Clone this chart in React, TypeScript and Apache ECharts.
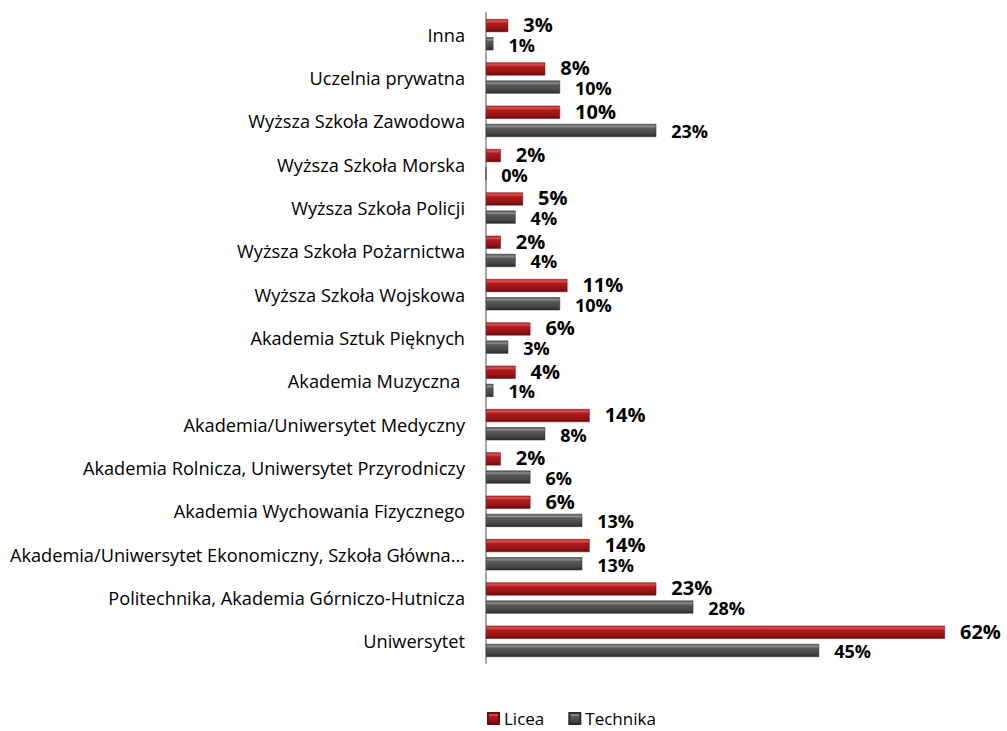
import React, { useEffect, useRef } from "react";
import * as echarts from "echarts";

const categories = [
  "Inna",
  "Uczelnia prywatna",
  "Wyższa Szkoła Zawodowa",
  "Wyższa Szkoła Morska",
  "Wyższa Szkoła Policji",
  "Wyższa Szkoła Pożarnictwa",
  "Wyższa Szkoła Wojskowa",
  "Akademia Sztuk Pięknych",
  "Akademia Muzyczna ",
  "Akademia/Uniwersytet Medyczny",
  "Akademia Rolnicza, Uniwersytet Przyrodniczy",
  "Akademia Wychowania Fizycznego",
  "Akademia/Uniwersytet Ekonomiczny, Szkoła Główna...",
  "Politechnika, Akademia Górniczo-Hutnicza",
  "Uniwersytet",
];

const licea = [3, 8, 10, 2, 5, 2, 11, 6, 4, 14, 2, 6, 14, 23, 62];
const technika = [1, 10, 23, 0, 4, 4, 10, 3, 1, 8, 6, 13, 13, 28, 45];

const FONT = "'Open Sans', 'Noto Sans', sans-serif";

const redGrad = new echarts.graphic.LinearGradient(0, 0, 0, 1, [
  { offset: 0, color: "#b82a2a" },
  { offset: 0.18, color: "#d9504e" },
  { offset: 0.32, color: "#b01c1e" },
  { offset: 0.75, color: "#951315" },
  { offset: 1, color: "#640a0c" },
]);
const grayGrad = new echarts.graphic.LinearGradient(0, 0, 0, 1, [
  { offset: 0, color: "#555555" },
  { offset: 0.18, color: "#8e8e8e" },
  { offset: 0.32, color: "#5a5a5a" },
  { offset: 0.75, color: "#454545" },
  { offset: 1, color: "#2a2a2a" },
]);

export default function App() {
  const ref = useRef<HTMLDivElement>(null);
  useEffect(() => {
    if (!ref.current) return;
    const chart = echarts.init(ref.current, undefined, { renderer: "svg" });
    chart.setOption({
      animation: false,
      backgroundColor: "#ffffff",
      grid: { left: 486, right: 62, top: 13, bottom: 68, containLabel: false },
      legend: {
        data: ["Licea", "Technika"],
        left: 487,
        top: 710,
        padding: 0,
        itemWidth: 11,
        itemHeight: 11,
        itemGap: 24,
        icon: "rect",
        textStyle: { fontFamily: FONT, fontSize: 17, lineHeight: 17, color: "#000" },
      },
      xAxis: {
        type: "value",
        min: 0,
        max: 62,
        show: false,
      },
      yAxis: {
        type: "category",
        inverse: true,
        data: categories,
        axisLine: { show: true, lineStyle: { color: "#a6a6a6", width: 2 } },
        axisTick: { show: false },
        axisLabel: {
          margin: 21,
          fontFamily: FONT,
          fontSize: 18.2,
          color: "#000",
        },
      },
      series: [
        {
          name: "Licea",
          type: "bar",
          data: licea,
          barWidth: 13,
          barGap: "40%",
          itemStyle: { color: redGrad, borderColor: "#6e0c0e", borderWidth: 0.5 },
          label: {
            show: true,
            position: "right",
            distance: 15,
            offset: [0, -1],
            formatter: "{c}%",
            fontFamily: FONT,
            fontWeight: "bold",
            fontSize: 20,
            lineHeight: 17,
            color: "#000",
          },
        },
        {
          name: "Technika",
          type: "bar",
          data: technika,
          barWidth: 13,
          barGap: "40%",
          itemStyle: { color: grayGrad, borderColor: "#2a2a2a", borderWidth: 0.5 },
          label: {
            show: true,
            position: "right",
            distance: 15,
            offset: [0, 1],
            formatter: "{c}%",
            fontFamily: FONT,
            fontWeight: "bold",
            fontSize: 18,
            lineHeight: 15,
            color: "#000",
          },
        },
      ],
    });
    return () => chart.dispose();
  }, []);
  return (
    <div
      ref={ref}
      style={{ position: "absolute", left: 0, top: 0, width: 1007, height: 731 }}
    />
  );
}
